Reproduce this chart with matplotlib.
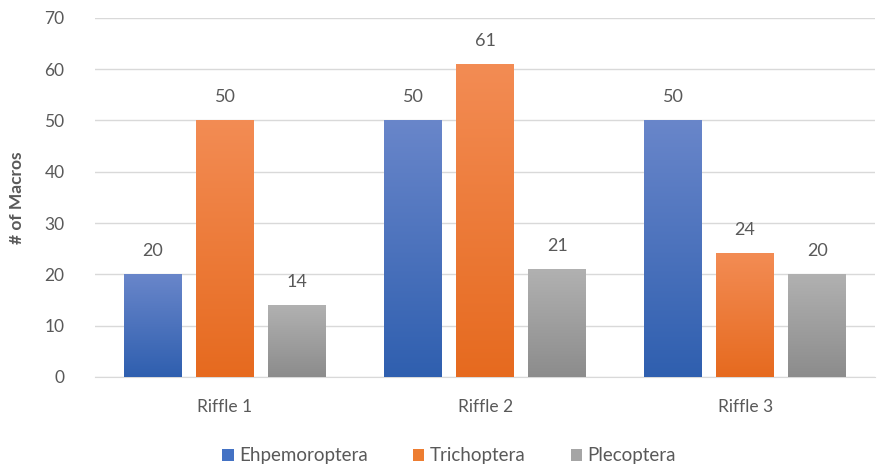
import numpy as np
import matplotlib
matplotlib.use("Agg")
import matplotlib.pyplot as plt
from matplotlib.colors import LinearSegmentedColormap
from matplotlib.patches import Patch

plt.rcParams['font.family'] = ['Lato', 'DejaVu Sans']

riffles = ["Riffle 1", "Riffle 2", "Riffle 3"]
ephem = [20, 50, 50]
trich = [50, 61, 24]
pleco = [14, 21, 20]
series = ["Ehpemoroptera", "Trichoptera", "Plecoptera"]

# (top colour, bottom colour) for the gradient fill
grads = [("#6986CA", "#2F5FAF"), ("#F38C54", "#E66A1F"), ("#B1B1B1", "#8C8C8C")]
solid = ["#4472C4", "#ED7D31", "#A5A5A5"]
txt = "#595959"

fig = plt.figure(figsize=(8.84, 4.70), dpi=100)
ax = fig.add_axes([0.1075, 0.198, 0.8825, 0.764])

x = np.arange(len(riffles))
w = 0.223
step = 0.277

for i, vals in enumerate([ephem, trich, pleco]):
    bars = ax.bar(x + (i - 1) * step, vals, w, color="none", zorder=3)
    cmap = LinearSegmentedColormap.from_list("g%d" % i, [grads[i][1], grads[i][0]])
    for b, v in zip(bars, vals):
        x0, y0 = b.get_x(), b.get_y()
        x1, y1 = x0 + b.get_width(), y0 + b.get_height()
        grad = np.linspace(0, 1, 256).reshape(-1, 1)
        ax.imshow(grad, cmap=cmap, origin="lower", aspect="auto",
                  extent=(x0, x1, y0, y1), zorder=3, interpolation="bilinear")
        ax.text(b.get_x() + b.get_width() / 2, v + 3.0, str(v), ha="center",
                va="bottom", fontsize=13, color=txt)

ax.set_xlim(-0.5, 2.5)
ax.set_ylim(0, 70)
ax.set_yticks(range(0, 71, 10))
ax.set_xticks(x)
ax.set_xticklabels(riffles)
ax.grid(axis="y", color="#D9D9D9", linewidth=1, zorder=0)
ax.set_axisbelow(True)
for s in ["top", "right", "left"]:
    ax.spines[s].set_visible(False)
ax.spines["bottom"].set_color("#D9D9D9")
ax.tick_params(axis="both", length=0, labelsize=12.5, labelcolor=txt)
ax.tick_params(axis="y", pad=22)
ax.tick_params(axis="x", pad=16)
ax.set_ylabel("# of Macros", fontsize=12.5, fontweight="bold", color=txt, labelpad=14)

handles = [Patch(facecolor=c, edgecolor="none") for c in solid]
fig.legend(handles, series, loc="center", bbox_to_anchor=(0.508, 0.03), ncol=3,
           frameon=False, fontsize=13.5, handlelength=0.6, handleheight=0.6,
           handletextpad=0.3, columnspacing=2.4, labelcolor=txt)

fig.savefig("out.png", dpi=100)
